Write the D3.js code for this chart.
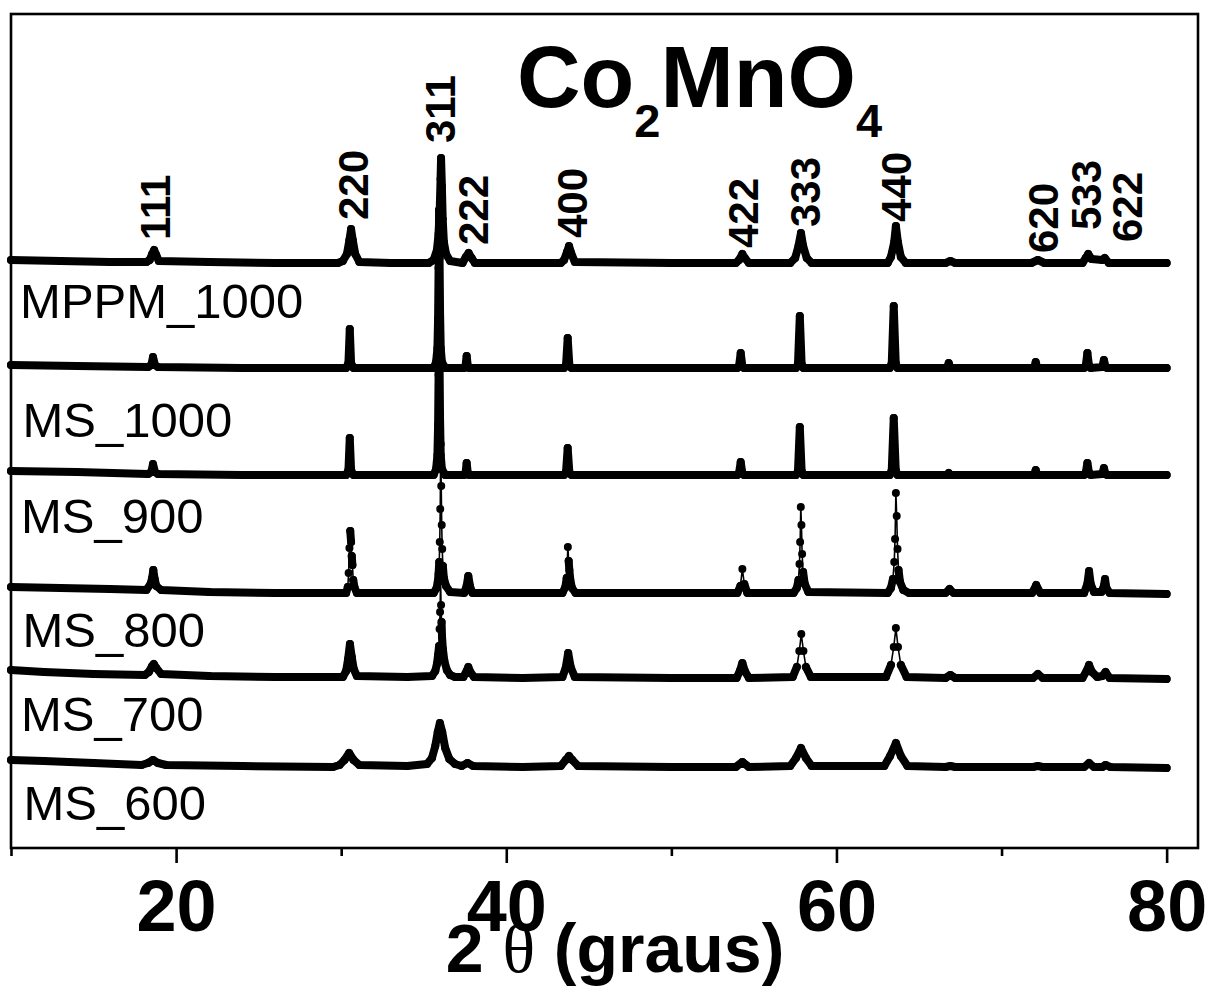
<!DOCTYPE html>
<html><head><meta charset="utf-8">
<script src="https://cdn.jsdelivr.net/npm/d3@7"></script>
<style>html,body{margin:0;padding:0;background:#fff;}svg{display:block;}</style>
</head><body>
<svg id="c" width="1209" height="990"></svg>
<script>
// ---------------- DATA ----------------
const sampleNames = ["MPPM_1000", "MS_1000", "MS_900", "MS_800", "MS_700", "MS_600"];
// vertical stacking offset of each pattern (a.u.)
const offsets = [584, 480, 373, 254, 169, 80];

// [2theta, intensity a.u.]
const mppm1000 = [[10,4],[13,3],[16,2],[18.2,2],[18.4,4],[18.55,10],[18.67,14],[18.8,9],[18.95,3],[22,2],[26,1],[29.8,1],
 [30.1,3],[30.35,10],[30.5,24],[30.6,35],[30.7,24],[30.85,10],[31.1,2],[33,1],[35.3,1],
 [35.6,4],[35.8,14],[35.9,30],[35.97,55],[36.02,85],[36.05,106],[36.1,78],[36.15,45],[36.22,22],[36.35,10],[36.6,3],
 [37.35,1],[37.55,7],[37.72,11],[37.9,6],[38.1,1],[41,1],[43.3,1],
 [43.5,4],[43.68,12],[43.8,18],[43.93,11],[44.15,2],[50,1],[53.9,1],
 [54.1,4],[54.3,10],[54.45,6],[54.7,1],[57.2,1],
 [57.5,6],[57.7,18],[57.85,31],[57.98,18],[58.2,6],[58.5,1],[62,1],[63.1,1],
 [63.3,7],[63.5,22],[63.6,38],[63.72,22],[63.9,7],[64.2,1],[66.6,1],[66.9,3],[67.2,1],
 [71.8,1],[72.2,4],[72.6,1],[74.9,1],[75.1,6],[75.25,10],[75.45,5],[76.1,4],[76.25,6],[76.5,1],[80,1]];

const ms1000 = [[10,3],[14,2],[18.3,1],[18.5,3],[18.6,11],[18.72,3],[18.9,1],[24,0],[30.3,0],
 [30.44,5],[30.52,39],[30.6,5],[30.75,0],[35.6,0],
 [35.75,6],[35.83,20],[35.87,50],[35.9,100],[35.93,158],[35.96,110],[35.99,55],[36.03,20],[36.1,6],[36.3,0],
 [37.45,0],[37.53,2],[37.6,12],[37.67,2],[37.75,0],[43.5,0],[43.62,3],[43.72,30],[43.82,3],[43.95,0],
 [54.0,0],[54.1,2],[54.2,15],[54.3,2],[54.4,0],[57.55,0],[57.67,4],[57.78,52],[57.89,4],[58.0,0],
 [63.23,0],[63.35,5],[63.47,62],[63.59,5],[63.7,0],
 [66.7,0],[66.8,5],[66.9,0],[71.97,0],[72.07,6],[72.17,0],[75.0,0],[75.1,2],[75.2,15],[75.3,2],[75.4,0],
 [76.1,1],[76.2,8],[76.3,1],[76.4,0],[80,0]];

const ms900 = [[10,4],[14,3],[18.3,1],[18.5,3],[18.6,11],[18.72,3],[18.9,1],[24,0],[30.3,0],
 [30.44,5],[30.52,37],[30.6,5],[30.75,0],[35.6,0],
 [35.75,6],[35.83,20],[35.87,50],[35.9,100],[35.93,160],[35.96,110],[35.99,55],[36.03,20],[36.1,6],[36.3,0],
 [37.45,0],[37.53,2],[37.6,12],[37.67,2],[37.75,0],[43.5,0],[43.62,3],[43.72,27],[43.82,3],[43.95,0],
 [54.0,0],[54.1,2],[54.2,13],[54.3,2],[54.4,0],[57.55,0],[57.67,4],[57.78,48],[57.89,4],[58.0,0],
 [63.23,0],[63.35,5],[63.47,57],[63.59,5],[63.7,0],
 [66.7,0],[66.8,2],[66.9,0],[71.97,0],[72.07,5],[72.17,0],[75.0,0],[75.1,2],[75.2,12],[75.3,2],[75.4,0],
 [76.1,1],[76.2,7],[76.3,1],[76.4,0],[80,0]];

const ms800 = [[10,7],[13,6],[16,5],[18.2,4],[18.45,10],[18.55,16],[18.62,24],[18.7,15],[18.8,8],[19.1,4],[22,2],[26,1],
 [30.3,1],[30.4,7],[30.45,21],[30.5,46],[30.55,63],[30.6,52],[30.64,38],[30.68,29],[30.73,14],[30.8,7],[30.95,1],[34,1],[35.6,1],
 [35.78,6],[35.85,12],[35.9,20],[35.94,32],[35.97,52],[36.0,85],[36.03,150],[36.06,108],[36.09,69],[36.12,45],[36.16,28],[36.22,16],[36.35,8],[36.6,2],
 [37.45,1],[37.6,8],[37.7,18],[37.8,8],[37.95,1],[41,1],
 [43.4,1],[43.58,7],[43.66,16],[43.73,47],[43.78,33],[43.82,24],[43.88,14],[43.98,6],[44.2,1],[50,1],
 [54.0,1],[54.18,8],[54.3,25],[54.42,10],[54.6,1],
 [57.4,1],[57.6,6],[57.7,14],[57.76,30],[57.8,52],[57.84,87],[57.88,69],[57.92,40],[57.98,22],[58.08,10],[58.3,2],
 [63.1,1],[63.3,6],[63.42,15],[63.5,32],[63.55,55],[63.6,101],[63.65,78],[63.7,45],[63.76,24],[63.85,12],[64.05,4],[64.4,1],
 [66.6,1],[66.85,5],[67.1,1],[71.85,1],[72.1,9],[72.35,1],[75.0,1],[75.2,10],[75.3,23],[75.4,10],[75.6,2],
 [76.05,2],[76.2,8],[76.27,15],[76.35,6],[76.55,1],[80,0]];

const ms700 = [[10,9],[12,7],[15,5],[18.1,4],[18.35,7],[18.55,13],[18.65,15],[18.8,11],[19.1,5],[22,3],[26,2],
 [30.1,2],[30.3,8],[30.42,20],[30.53,35],[30.64,22],[30.76,10],[30.95,3],[34,2],
 [35.5,3],[35.7,8],[35.8,15],[35.87,24],[35.93,33],[35.96,50],[35.99,67],[36.02,100],[36.05,74],[36.08,57],[36.11,42],[36.16,30],[36.25,18],[36.4,9],[36.6,4],[36.9,2],
 [37.4,2],[37.6,8],[37.7,12],[37.82,7],[38.05,2],[41,1],
 [43.4,2],[43.6,11],[43.75,26],[43.9,12],[44.15,2],[50,1],
 [53.95,1],[54.15,8],[54.3,16],[54.45,8],[54.7,1],
 [57.35,2],[57.6,12],[57.75,28],[57.87,45],[58.0,28],[58.15,12],[58.45,2],
 [63.0,2],[63.3,14],[63.47,32],[63.6,51],[63.73,32],[63.9,14],[64.25,2],
 [66.6,1],[66.9,4],[67.2,1],[71.9,1],[72.2,5],[72.5,1],[74.9,1],[75.15,8],[75.3,14],[75.48,7],[75.8,2],[76.1,3],[76.3,7],[76.55,1],[80,0]];

const ms600 = [[10,8],[12,7],[15,5],[17.9,3],[18.3,5],[18.6,8],[18.9,5],[19.4,3],[24,2],[29.5,1],
 [29.9,3],[30.2,8],[30.48,15],[30.75,8],[31.1,3],[34,2],[35.2,4],
 [35.5,10],[35.7,22],[35.85,36],[35.98,45],[36.12,36],[36.3,20],[36.55,9],[36.9,4],
 [37.3,2],[37.65,5],[38.0,2],[41,1],[43.3,2],[43.6,8],[43.8,12],[44.0,8],[44.35,2],[50,1],
 [53.9,1],[54.3,6],[54.7,1],[57.2,2],[57.55,10],[57.85,20],[58.15,10],[58.5,2],
 [62.9,2],[63.25,12],[63.6,25],[63.9,12],[64.3,2],[66.6,1],[66.9,2],[67.2,1],
 [71.9,1],[72.2,2],[72.5,1],[75.0,1],[75.3,5],[75.6,1],[76.1,1],[76.3,3],[76.6,1],[80,0]];

const seriesData = [mppm1000, ms1000, ms900, ms800, ms700, ms600];

// Miller index labels
const hklLabels = ["111", "220", "311", "222", "400", "422", "333", "440", "620", "533", "622"];
const hklTheta  = [18.73, 30.72, 35.99, 37.96, 43.98, 54.36, 58.07, 63.6, 72.48, 75.1, 77.57];
const hklBase   = [608, 628, 705, 603, 610, 600, 621, 626, 595, 618, 606];

// sample label positions
const labelTheta = [10.55, 10.7, 10.6, 10.7, 10.6, 10.75];
const labelBase  = [530, 411, 315, 201, 117, 28];

const xTicksMajor = [20, 40, 60, 80];
const xTicksMinor = [10, 30, 50, 70];

// ---------------- STYLE / LAYOUT ----------------
const svg = d3.select("#c");
const L = 11, R = 1198, T = 14, B = 848;
const x = d3.scaleLinear().domain([10, 81.9]).range([L, R]);
const y = d3.scaleLinear().domain([0, B - T]).range([B, T]);
// segment threshold (px) above which a segment is drawn thin (dotted look)
const thickThr = [Infinity, Infinity, Infinity, 13, 15, Infinity];

const gData = svg.append("g");
seriesData.forEach((s, i) => {
  const pts = s.map(d => [x(d[0]), y(offsets[i] + d[1])]);
  gData.append("path").attr("d", d3.line()(pts))
    .attr("fill", "none").attr("stroke", "#000").attr("stroke-width", 1.6);
  const p = d3.path();
  let open = false;
  for (let k = 0; k < pts.length - 1; k++) {
    const a = pts[k], b = pts[k + 1];
    if (Math.abs(b[1] - a[1]) <= thickThr[i]) {
      if (!open) { p.moveTo(a[0], a[1]); open = true; }
      p.lineTo(b[0], b[1]);
    } else open = false;
  }
  gData.append("path").attr("d", p.toString())
    .attr("fill", "none").attr("stroke", "#000").attr("stroke-width", 8)
    .attr("stroke-linejoin", "round").attr("stroke-linecap", "round");
  gData.selectAll(null).data(pts).join("circle")
    .attr("cx", d => d[0]).attr("cy", d => d[1]).attr("r", 4).attr("fill", "#000");
});

// frame
svg.append("rect").attr("x", L).attr("y", T).attr("width", R - L).attr("height", B - T)
  .attr("fill", "none").attr("stroke", "#000").attr("stroke-width", 2.6);

// axes
const axMaj = svg.append("g").attr("transform", `translate(0,${B})`)
  .call(d3.axisBottom(x).tickValues(xTicksMajor).tickSize(15).tickPadding(17).tickFormat(d3.format("d")));
axMaj.select(".domain").remove();
axMaj.selectAll("line").attr("stroke-width", 2.6);
axMaj.selectAll("text").attr("font-family", "Liberation Sans, Arial, sans-serif")
  .attr("font-weight", "bold").attr("font-size", 72).attr("fill", "#000");
const axMin = svg.append("g").attr("transform", `translate(0,${B})`)
  .call(d3.axisBottom(x).tickValues(xTicksMinor).tickSize(8).tickFormat(""));
axMin.select(".domain").remove();
axMin.selectAll("line").attr("stroke-width", 2.6);

// x label
const xl = svg.append("text").attr("x", 615).attr("y", 972).attr("text-anchor", "middle")
  .attr("font-family", "Liberation Sans, Arial, sans-serif").attr("font-weight", "bold")
  .attr("font-size", 68).attr("fill", "#000");
xl.append("tspan").text("2 ");
xl.append("tspan").attr("font-family", "Liberation Serif, serif").attr("font-weight", "normal").text("θ");
xl.append("tspan").text(" (graus)");

// title
const tt = svg.append("text").attr("x", 517).attr("y", 107)
  .attr("font-family", "Liberation Sans, Arial, sans-serif").attr("font-weight", "bold")
  .attr("font-size", 88).attr("fill", "#000");
tt.append("tspan").text("Co");
tt.append("tspan").attr("font-size", 47).attr("dy", 30).text("2");
tt.append("tspan").attr("dy", -30).text("MnO");
tt.append("tspan").attr("font-size", 47).attr("dy", 30).text("4");

// hkl labels
hklLabels.forEach((t, k) => {
  svg.append("text")
    .attr("transform", `translate(${x(hklTheta[k])},${y(hklBase[k])}) rotate(-90)`)
    .attr("dy", "0.36em")
    .attr("font-family", "Liberation Sans Narrow, Liberation Sans, Arial, sans-serif")
    .attr("font-weight", "bold").attr("font-size", 42).attr("fill", "#000").text(t);
});

// sample labels
sampleNames.forEach((t, k) => {
  svg.append("text").attr("x", x(labelTheta[k])).attr("y", y(labelBase[k]))
    .attr("font-family", "Liberation Sans, Arial, sans-serif")
    .attr("font-size", 49).attr("fill", "#000").text(t);
});
</script>
</body></html>
